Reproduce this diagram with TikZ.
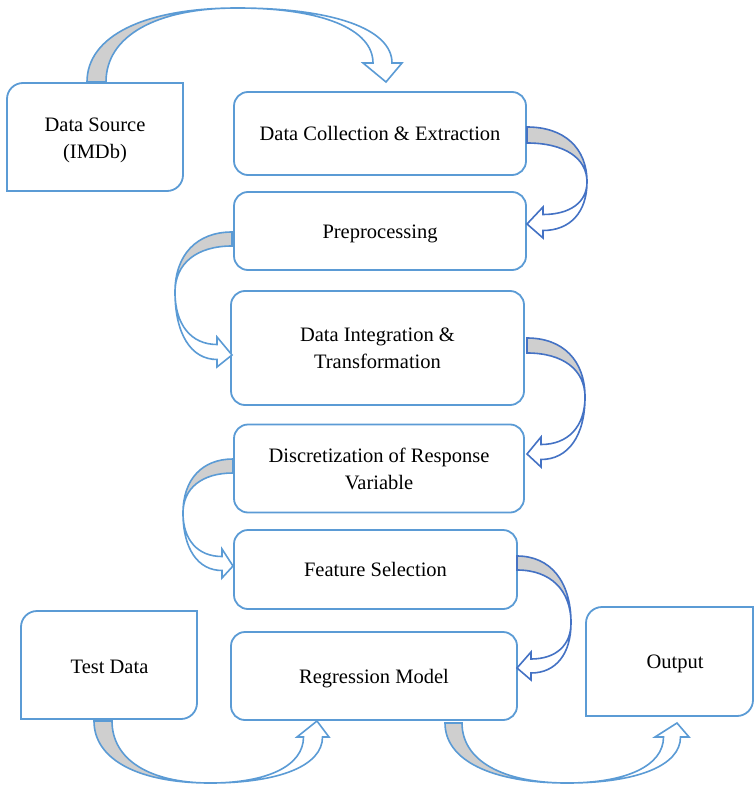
\documentclass[tikz,border=0pt]{standalone}
\usepackage{fontspec}
\setmainfont{Liberation Serif}

\definecolor{boxblue}{RGB}{91,155,213}
\definecolor{darkblue}{RGB}{68,114,196}
\definecolor{bandgrey}{RGB}{207,207,207}

% Bent block arrow drawn in a local frame: tail edge from (0,0) to (w,0),
% tip at (L,0), bulging to height B with its crest at x = xp.
% #2 L, #3 B, #4 xp, #5 w, #6 head length, #7 head half width,
% #8 shaft width at the head, #9 offset of the head centre from the tip
\newcommand\bentarrow[9][]{%
  \begin{scope}[#1]
    \pgfmathsetmacro\bxo{#2-#9+#8/2}
    \pgfmathsetmacro\bxi{#2-#9-#8/2}
    \pgfmathsetmacro\bwo{#2-#9+#7}
    \pgfmathsetmacro\bwi{#2-#9-#7}
    \pgfmathsetmacro\bk{0.62}
    % shaded back of the band
    \filldraw[fill=bandgrey]
      (0,0) .. controls (0,{\bk*#3}) and ({#4*(1-\bk)},#3) .. (#4,#3)
      .. controls ({#4-\bk*(#4-#5)},#3) and (#5,{\bk*#3}) .. (#5,0) -- cycle;
    % front of the band with its head
    \filldraw[fill=white]
      (#4,#3) .. controls ({#4+\bk*(\bxo-#4)},#3) and (\bxo,{#6+\bk*(#3-#6)}) .. (\bxo,#6)
      -- (\bwo,#6) -- (#2,0) -- (\bwi,#6) -- (\bxi,#6)
      .. controls (\bxi,{#6+\bk*(#3-#6)}) and ({#4+\bk*(\bxi-#4)},#3) .. (#4,#3) -- cycle;
  \end{scope}}

% Frame with rounded top-left and bottom-right corners only
\newcommand\halfround[4]{%
  \draw[boxline] (#1,#2+16) arc[start angle=180,end angle=90,radius=16pt]
    -- (#3,#2) -- (#3,#4-16) arc[start angle=0,end angle=-90,radius=16pt]
    -- (#1,#4) -- cycle;}

\begin{document}
\begin{tikzpicture}[x=1pt,y=-1pt,
  every node/.style={font=\fontsize{20.5}{27}\selectfont, align=center, inner sep=0pt},
  oneline/.style={text height=14pt, text depth=0pt},
  boxline/.style={draw=boxblue, line width=1.8pt},
  stagebox/.style={boxline, rounded corners=14pt, fill=white},
  litearrow/.style={draw=boxblue, line width=1.6pt},
  deeparrow/.style={draw=darkblue, line width=1.6pt},
  arcover/.style={x={(1pt,0pt)}, y={(0pt,1pt)}},
  arcright/.style={x={(0pt,-1pt)}, y={(1pt,0pt)}},
  arcleft/.style={x={(0pt,-1pt)}, y={(-1pt,0pt)}},
  arcunder/.style={x={(1pt,0pt)}, y={(0pt,-1pt)}}]
\useasboundingbox (0,0) rectangle (755,786);

% side boxes
\halfround{7}{83}{183}{191}
\node (ds) at (95,140.5) {Data Source\\(IMDb)};
\halfround{21}{611}{197}{719}
\node[oneline] (td) at (109.5,666) {Test Data};
\halfround{586}{607}{753}{716}
\node[oneline] (out) at (675,661.5) {Output};

% main stages
\node[stagebox, oneline, minimum width=292pt, minimum height=83pt] (dc) at (380,133.5) {Data Collection \& Extraction};
\node[stagebox, oneline, minimum width=292pt, minimum height=78pt] (pp) at (380,231) {Preprocessing};
\node[stagebox, minimum width=293pt, minimum height=114pt] (di) at (377.5,348) {Data Integration \&\\Transformation};
\node[stagebox, minimum width=290pt, minimum height=88pt] (dz) at (379,468.5) {Discretization of Response\\Variable};
\node[stagebox, oneline, minimum width=283pt, minimum height=79pt] (fs) at (375.5,569.5) {Feature Selection};
\node[stagebox, oneline, minimum width=286pt, minimum height=88pt] (rm) at (374,676) {Regression Model};

% bent arrows between the stages
\bentarrow[shift={(87pt,-82pt)}, arcover, litearrow]{299}{74}{150}{19}{19}{19.5}{19}{3.5}
\bentarrow[shift={(527pt,-127pt)}, arcright, deeparrow]{97}{60}{55}{16}{16}{15.5}{16}{1.5}
\bentarrow[shift={(232pt,-232pt)}, arcleft, litearrow]{123}{57}{60}{14}{15}{15}{15}{3}
\bentarrow[shift={(527pt,-338pt)}, arcright, deeparrow]{116}{58}{59}{15}{14}{15}{15}{2}
\bentarrow[shift={(233pt,-459pt)}, arcleft, litearrow]{107}{50}{54}{14}{11}{14.5}{14}{2.5}
\bentarrow[shift={(517pt,-556pt)}, arcright, deeparrow]{112}{54}{67}{14}{14}{14}{14}{2}
\bentarrow[shift={(94pt,-721pt)}, arcunder, litearrow]{223}{62}{116}{18}{16}{16}{19}{4}
\bentarrow[shift={(445pt,-723pt)}, arcunder, litearrow]{232}{60}{122}{17}{14}{17}{17}{5}
\end{tikzpicture}
\end{document}
